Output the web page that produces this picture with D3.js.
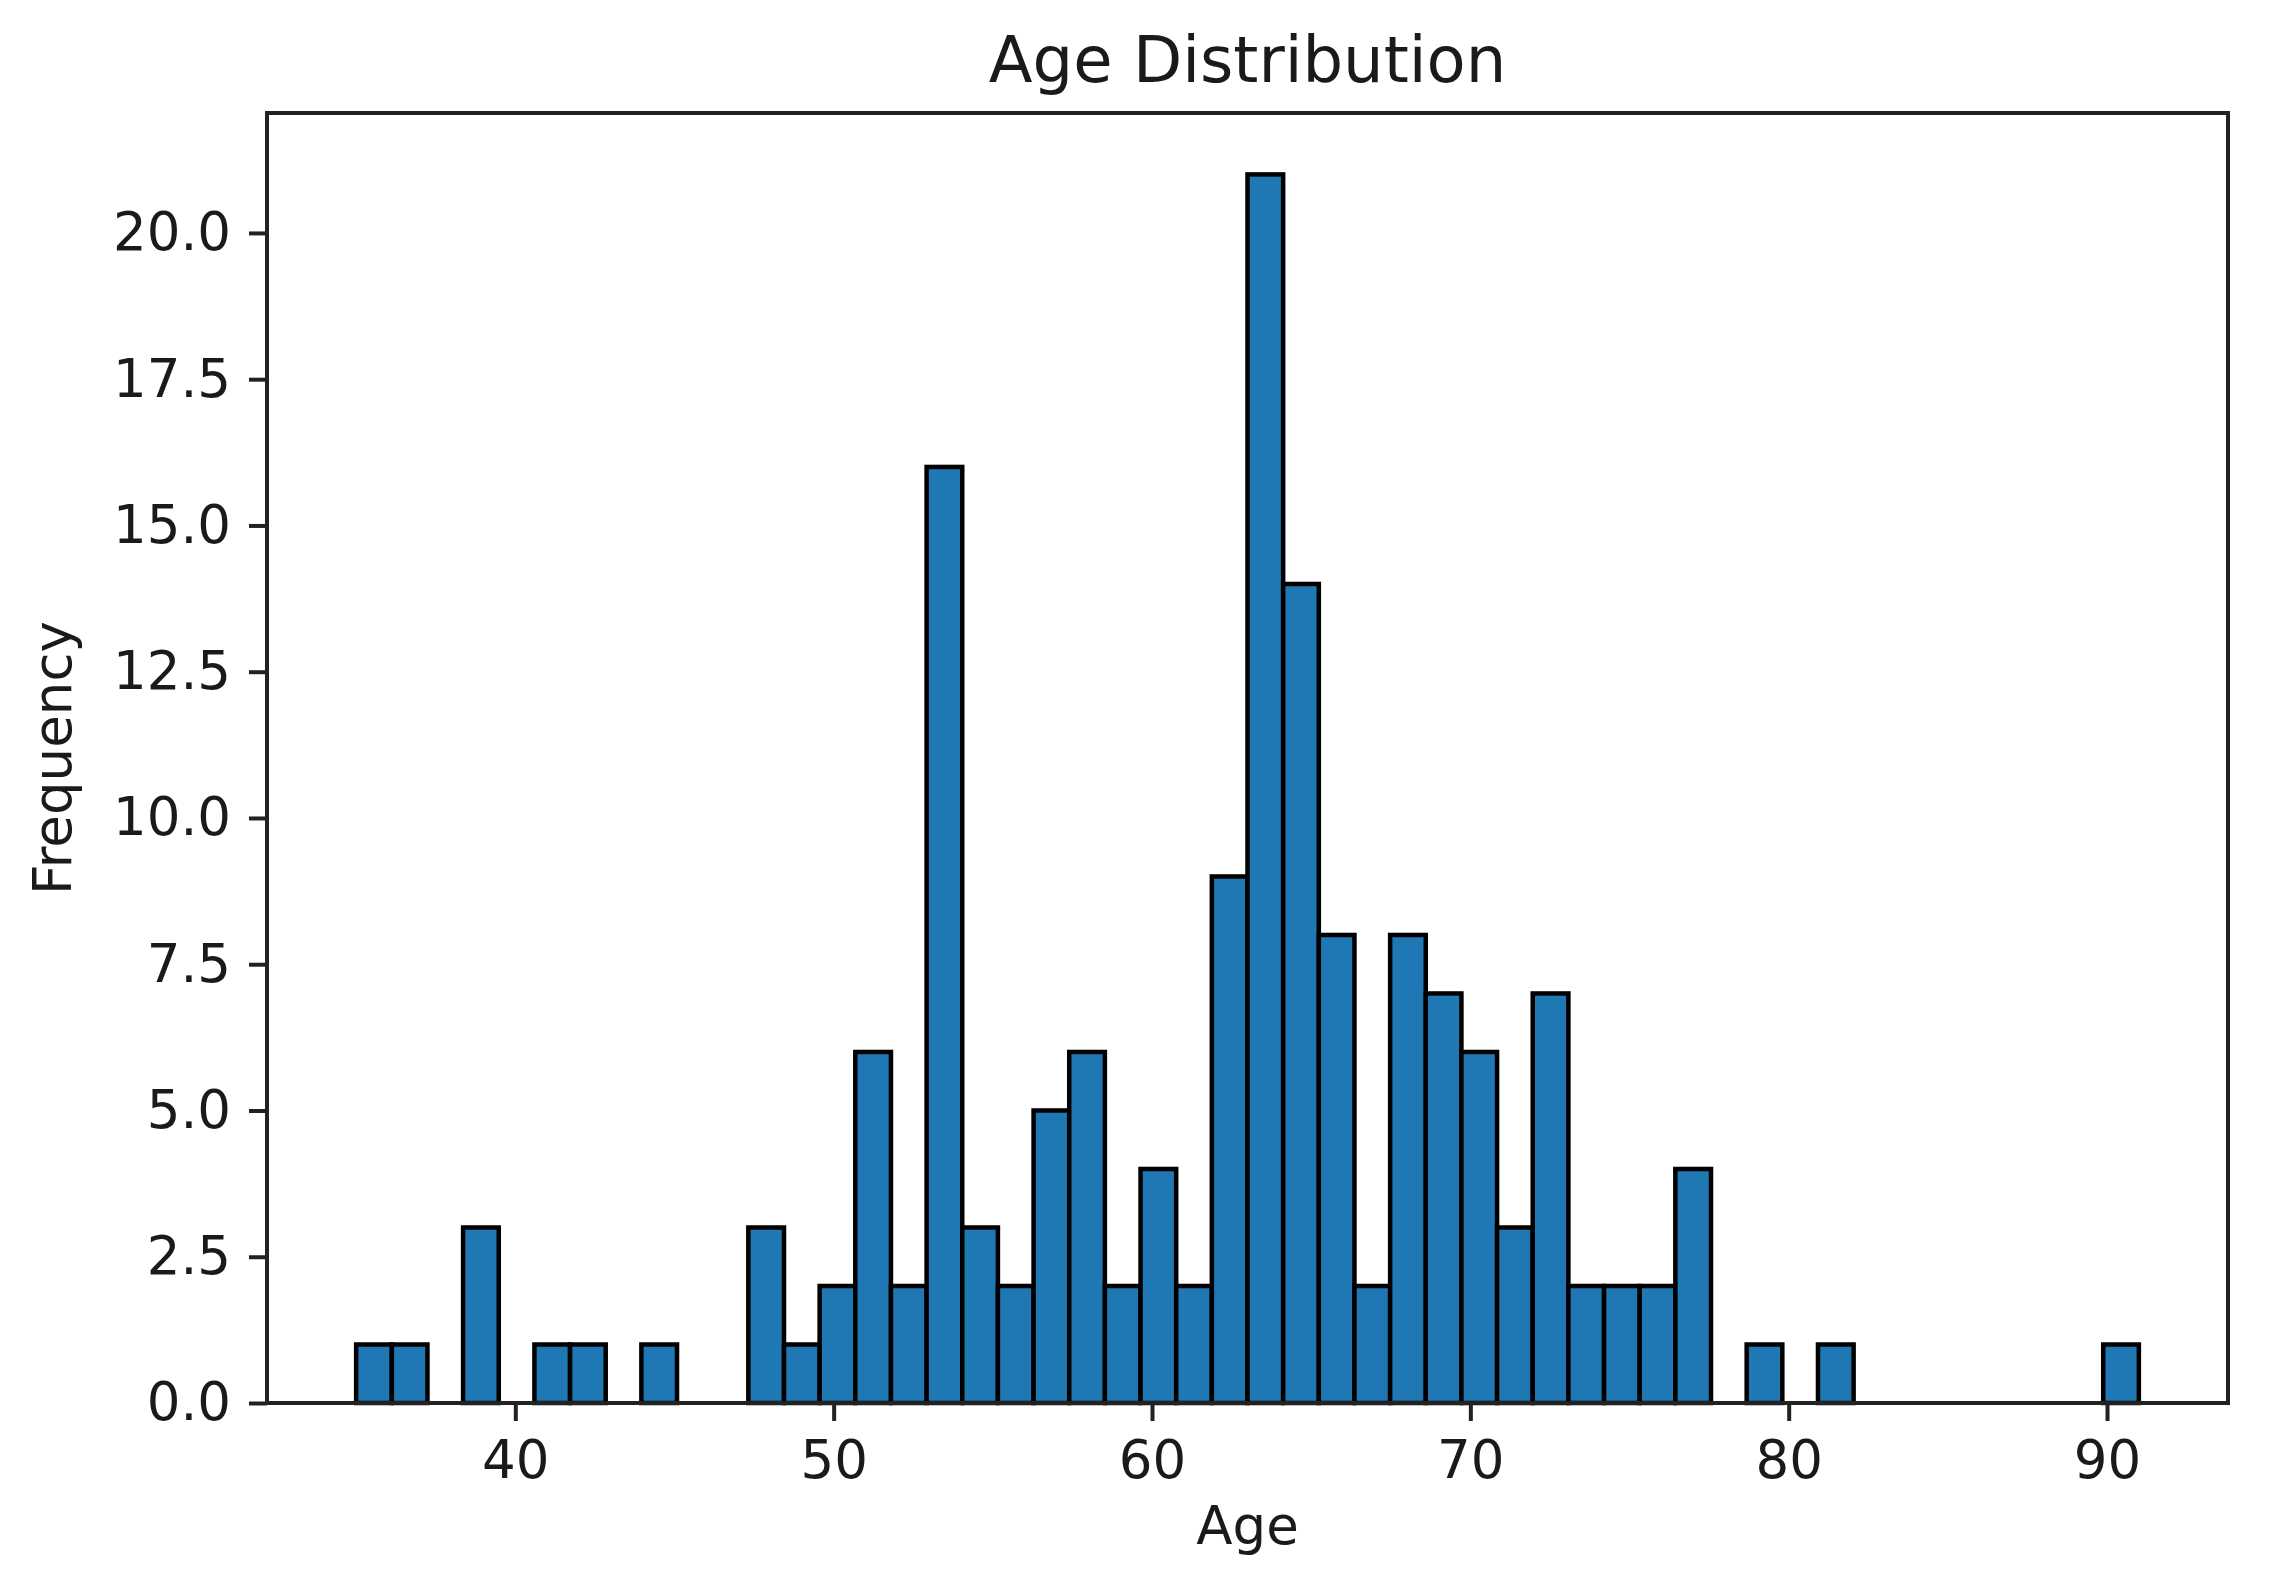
<!DOCTYPE html>
<html>
<head>
<meta charset="utf-8">
<script src="https://cdn.jsdelivr.net/npm/d3@7"></script>
<style>
  body { margin: 0; background: #fff; }
  text { font-family: "DejaVu Sans", sans-serif; fill: #1a1a1a; }
</style>
</head>
<body>
<script>
// histogram of ages, 50 equal bins between ageMin and ageMax
const ageMin = 35;
const ageMax = 91;
const counts = [1, 1, 0, 3, 0, 1, 1, 0, 1, 0,
                0, 3, 1, 2, 6, 2, 16, 3, 2, 5,
                6, 2, 4, 2, 9, 21, 14, 8, 2, 8,
                7, 6, 3, 7, 2, 2, 2, 4, 0, 1,
                0, 1, 0, 0, 0, 0, 0, 0, 0, 1];
const xTicks = [40, 50, 60, 70, 80, 90];
const yTicks = [0, 2.5, 5, 7.5, 10, 12.5, 15, 17.5, 20];

const width = 2269;
const height = 1584;
const plot = {left: 267, right: 2228, top: 113, bottom: 1403};
const barColor = "#1f77b4";

const binWidth = (ageMax - ageMin) / counts.length;
const bins = counts.map((c, i) => ({
  x0: ageMin + i * binWidth,
  x1: ageMin + (i + 1) * binWidth,
  count: c
}));

const pad = (ageMax - ageMin) * 0.05;
const x = d3.scaleLinear()
  .domain([ageMin - pad, ageMax + pad])
  .range([plot.left, plot.right]);

const y = d3.scaleLinear()
  .domain([0, d3.max(counts) * 1.05])
  .range([plot.bottom, plot.top]);

const svg = d3.select("body").append("svg")
  .attr("width", width)
  .attr("height", height);

svg.append("rect")
  .attr("width", width)
  .attr("height", height)
  .attr("fill", "#ffffff");

svg.append("g")
  .selectAll("rect")
  .data(bins.filter(d => d.count > 0))
  .join("rect")
    .attr("x", d => x(d.x0))
    .attr("y", d => y(d.count))
    .attr("width", d => x(d.x1) - x(d.x0))
    .attr("height", d => y(0) - y(d.count))
    .attr("fill", barColor)
    .attr("stroke", "#000")
    .attr("stroke-width", 4.5);

// axes
const xAxis = svg.append("g")
  .attr("transform", `translate(0,${plot.bottom})`)
  .call(d3.axisBottom(x).tickValues(xTicks).tickFormat(d3.format("d"))
    .tickSize(18).tickPadding(19));

const yAxis = svg.append("g")
  .attr("transform", `translate(${plot.left},0)`)
  .call(d3.axisLeft(y).tickValues(yTicks).tickFormat(d3.format(".1f"))
    .tickSize(18).tickPadding(18));

[xAxis, yAxis].forEach(g => {
  g.select(".domain").remove();
  g.selectAll(".tick line").attr("stroke", "#222").attr("stroke-width", 4);
  g.selectAll(".tick text").style("font-size", "53px").attr("fill", "#1a1a1a");
});

// frame
svg.append("rect")
  .attr("x", plot.left)
  .attr("y", plot.top)
  .attr("width", plot.right - plot.left)
  .attr("height", plot.bottom - plot.top)
  .attr("fill", "none")
  .attr("stroke", "#222")
  .attr("stroke-width", 4);

svg.append("text")
  .attr("x", (plot.left + plot.right) / 2)
  .attr("y", 82)
  .attr("text-anchor", "middle")
  .style("font-size", "64px")
  .text("Age Distribution");

svg.append("text")
  .attr("x", (plot.left + plot.right) / 2)
  .attr("y", 1544)
  .attr("text-anchor", "middle")
  .style("font-size", "53px")
  .text("Age");

svg.append("text")
  .attr("transform", `translate(71,${(plot.top + plot.bottom) / 2}) rotate(-90)`)
  .attr("text-anchor", "middle")
  .style("font-size", "53px")
  .text("Frequency");
</script>
</body>
</html>
